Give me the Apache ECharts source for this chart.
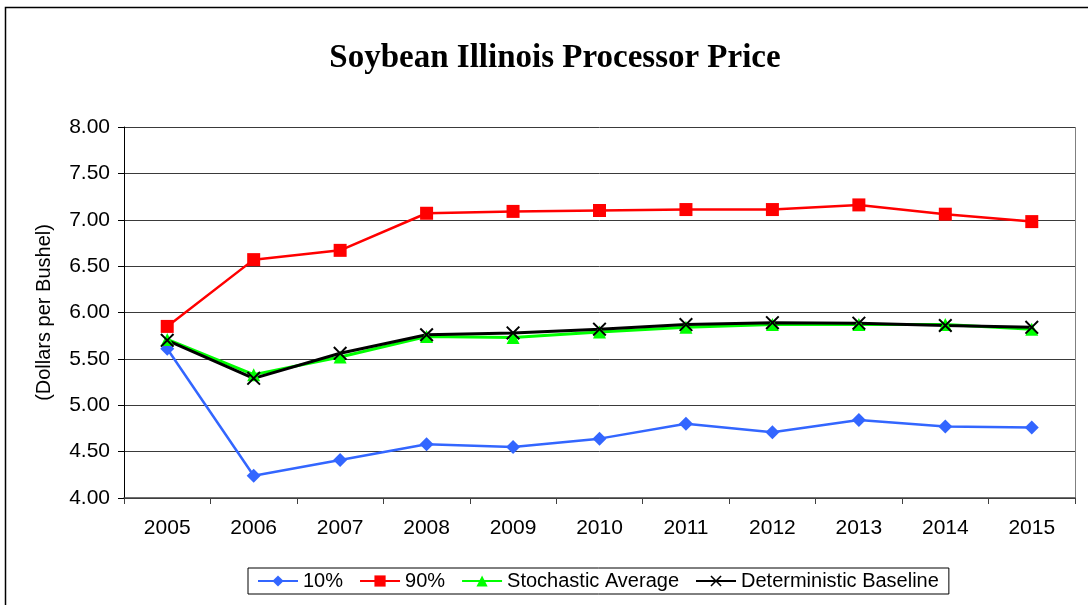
<!DOCTYPE html>
<html>
<head>
<meta charset="utf-8">
<script src="https://cdn.jsdelivr.net/npm/echarts@6/dist/echarts.min.js"></script>
<style>
  html, body { margin: 0; padding: 0; background: #fff; }
  #main { width: 1088px; height: 605px; }
</style>
</head>
<body>
<div id="main"></div>
<script>
// 年份
var years = ['2005', '2006', '2007', '2008', '2009', '2010', '2011', '2012', '2013', '2014', '2015'];

// 各序列数值 (美元/蒲式耳)
var p10 = [5.61, 4.24, 4.41, 4.58, 4.55, 4.64, 4.80, 4.71, 4.84, 4.77, 4.76];
var p90 = [5.85, 6.57, 6.67, 7.07, 7.09, 7.10, 7.11, 7.11, 7.16, 7.06, 6.98];
var stochAvg = [5.71, 5.33, 5.52, 5.74, 5.73, 5.79, 5.84, 5.87, 5.87, 5.87, 5.82];
var baseline = [5.70, 5.29, 5.56, 5.76, 5.78, 5.82, 5.87, 5.89, 5.885, 5.86, 5.84];

var yTicks = { min: 4, max: 8, step: 0.5 };

var crossPath = 'path://M0,1L1,0L5,4L9,0L10,1L6,5L10,9L9,10L5,6L1,10L0,9L4,5Z';
var cFont = '"Liberation Sans", Arial, sans-serif';

var chart = echarts.init(document.getElementById('main'));

var option = {
    animation: false,
    backgroundColor: '#fff',
    title: {
        text: 'Soybean Illinois Processor Price',
        left: 550,
        textAlign: 'center',
        top: 37,
        textStyle: {
            fontFamily: '"Liberation Serif", "Times New Roman", serif',
            fontWeight: 'bold',
            fontSize: 33,
            color: '#000'
        }
    },
    graphic: [{
        type: 'rect',
        shape: { x: 5.5, y: 7.5, width: 1100, height: 620 },
        style: { fill: 'none', stroke: '#000', lineWidth: 1.5 },
        silent: true
    }, {
        // 绘图区右侧边框
        type: 'line',
        shape: { x1: 1075.5, y1: 127, x2: 1075.5, y2: 498 },
        style: { stroke: '#808080', lineWidth: 1 },
        silent: true
    }],
    legend: {
        bottom: 11,
        left: 248,
        itemWidth: 40,
        itemHeight: 14,
        itemGap: 16,
        padding: [3, 10, 3, 9],
        borderColor: '#000',
        borderWidth: 1,
        textStyle: {
            fontFamily: cFont,
            fontSize: 20,
            color: '#000'
        },
        data: ['10%', '90%', 'Stochastic Average', 'Deterministic Baseline']
    },
    grid: {
        left: 124,
        right: 13,
        top: 127,
        bottom: 107
    },
    xAxis: {
        type: 'category',
        data: years,
        boundaryGap: true,
        axisLine: { lineStyle: { color: '#404040', width: 1.5 } },
        axisTick: { show: true, length: 6, alignWithLabel: false, lineStyle: { color: '#404040' } },
        axisLabel: {
            margin: 20,
            fontFamily: cFont,
            fontSize: 21,
            color: '#000'
        },
        splitLine: { show: false }
    },
    yAxis: {
        type: 'value',
        min: yTicks.min,
        max: yTicks.max,
        interval: yTicks.step,
        name: '(Dollars per Bushel)',
        nameLocation: 'middle',
        nameGap: 70,
        nameRotate: 90,
        nameTextStyle: {
            fontFamily: cFont,
            fontSize: 20,
            color: '#000'
        },
        axisLine: { show: true, lineStyle: { color: '#000', width: 1 } },
        axisTick: { show: true, inside: false, length: 6, lineStyle: { color: '#000' } },
        axisLabel: {
            margin: 14,
            fontFamily: cFont,
            fontSize: 21,
            color: '#000',
            formatter: function (v) { return v.toFixed(2); }
        },
        splitLine: { show: true, lineStyle: { color: '#3a3a3a', width: 1 } }
    },
    series: [{
        name: '10%',
        type: 'line',
        data: p10,
        symbol: 'diamond',
        symbolSize: 14,
        lineStyle: { color: '#3366ff', width: 2.5 },
        itemStyle: { color: '#3366ff' }
    }, {
        name: '90%',
        type: 'line',
        data: p90,
        symbol: 'rect',
        symbolSize: 13,
        lineStyle: { color: '#ff0000', width: 2.5 },
        itemStyle: { color: '#ff0000' }
    }, {
        name: 'Stochastic Average',
        type: 'line',
        data: stochAvg,
        symbol: 'triangle',
        symbolSize: 13,
        lineStyle: { color: '#00ff00', width: 3 },
        itemStyle: { color: '#00ff00' }
    }, {
        name: 'Deterministic Baseline',
        type: 'line',
        data: baseline,
        symbol: crossPath,
        symbolSize: 14,
        lineStyle: { color: '#000', width: 3 },
        itemStyle: { color: '#000' }
    }]
};

chart.setOption(option);
</script>
</body>
</html>
